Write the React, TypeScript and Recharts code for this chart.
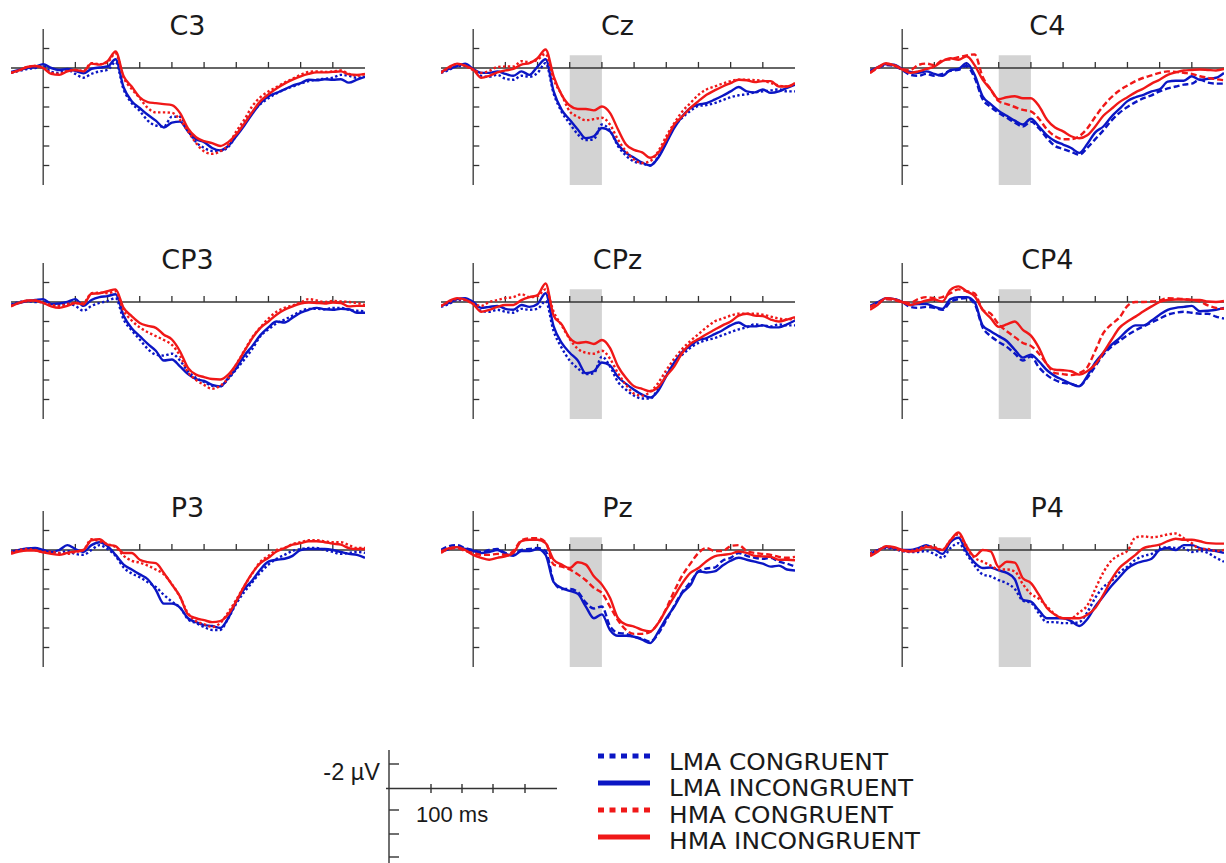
import { LineChart, Line, XAxis, YAxis, ReferenceLine, ReferenceArea } from 'recharts';

// time grid (ms) and axis ticks
const TIMES = [
  -100, -75, -50, -25, 0, 25, 50, 75, 100, 125, 150, 175, 200, 225, 250, 275, 300, 325, 350, 375, 400, 425, 450,
  475, 500, 525, 550, 575, 600, 625, 650, 675, 700, 725, 750, 775, 800, 825, 850, 875, 900, 925, 950, 975, 1000,
];
const X_TICKS = [100, 200, 300, 400, 500, 600, 700, 800, 900];
const Y_TICKS = [-2, 2, 4, 6, 8, 10];

// amplitudes in µV (negative up). lc = LMA congruent, li = LMA incongruent, hc = HMA congruent, hi = HMA incongruent
const C3_LC = [0.5,0.3,0.1,0,-0.2,0.4,0.5,0.2,0.6,1.0,0.6,0.35,0.2,-0.6,2.2,3.6,4.4,5.4,5.9,6.0,5.0,5.0,6.4,7.6,8.2,8.5,8.5,8.1,6.9,5.6,4.5,3.7,3.1,2.6,2.2,1.9,1.6,1.35,1.2,1.1,1.0,0.7,0.8,1.0,0.9];
const C3_LI = [0.4,0.2,0,-0.1,-0.4,0,0.2,0.1,0.3,0.55,0.1,-0.05,-0.15,-0.9,2.0,3.4,4.1,4.8,5.4,6.1,5.6,5.5,6.5,7.3,7.6,8.2,8.45,8.0,7.0,5.9,4.7,3.6,2.9,2.55,2.2,1.8,1.55,1.2,1.25,1.15,1.2,1.15,1.5,1.2,0.9];
const C3_HC = [0.5,0.25,-0.1,-0.2,0,0.5,0.6,0.3,0.2,0.3,-0.5,-0.4,-0.6,-1.5,1.0,2.15,3.1,4.1,4.55,4.55,4.6,5.3,6.5,7.7,8.55,8.8,8.55,7.9,6.5,5.3,3.9,3.0,2.4,1.95,1.5,1.1,0.7,0.4,0.35,0.4,0.35,0.25,0.6,0.8,0.6];
const C3_HI = [0.5,0.25,-0.1,-0.2,0,0.6,0.7,0.35,0.2,0.35,-0.45,-0.35,-0.7,-1.7,0.85,1.9,3.0,3.5,3.6,3.7,3.8,4.6,6.2,7.1,7.5,7.7,8.0,7.6,6.8,5.7,4.5,3.4,2.7,2.1,1.6,1.2,0.85,0.6,0.45,0.45,0.4,0.35,0.65,0.7,0.6];

const CZ_LC = [0.5,0.2,-0.2,-0.2,0.15,0.8,0.9,0.7,1.1,1.2,0.8,0.9,0.5,-0.5,2.6,4.5,5.7,6.8,7.4,7.3,5.8,6.4,8.0,9.0,9.6,9.8,10.0,9.1,7.6,6.0,5.1,4.4,3.9,3.8,3.6,3.3,3.0,2.8,2.7,2.5,2.4,2.3,2.2,2.4,2.4];
const CZ_LI = [0.4,0.1,-0.2,-0.45,0.1,0.5,0.5,0.35,0.6,0.8,0.35,0.7,-0.15,-0.9,2.4,4.3,5.3,6.3,7.2,7.0,6.15,6.5,7.85,8.7,9.2,9.7,10.0,9.2,7.7,6.15,4.95,4.1,3.75,3.6,3.25,2.85,2.4,1.95,2.4,2.5,2.2,2.55,2.4,2.05,1.7];
const CZ_HC = [0.5,0,-0.4,-0.2,0.2,0.5,0.3,-0.1,-0.15,-0.15,-0.7,-0.6,-0.85,-1.45,1.2,2.75,4.45,5.0,5.35,5.25,5.1,5.8,7.35,8.55,9.4,9.75,9.55,8.55,7.0,5.65,4.45,3.6,2.75,2.2,1.9,1.6,1.35,1.2,1.2,1.25,1.3,1.55,1.8,1.9,1.6];
const CZ_HI = [0.45,-0.1,-0.45,-0.25,0.15,1.0,0.8,0.45,0.25,0.1,-0.35,-0.5,-1.0,-1.9,0.85,2.75,3.85,4.2,4.2,4.35,3.95,4.6,6.3,7.85,8.4,8.65,9.2,8.7,7.35,5.8,4.95,4.1,3.4,2.75,2.3,1.9,1.55,1.2,1.25,1.45,1.35,1.35,1.9,1.9,1.55];

const C4_LC = [0.4,0,-0.3,-0.2,0.2,0.7,0.8,0.6,0.8,0.6,0.3,0.2,-0.2,1.0,3.2,4.0,4.6,5.1,5.6,6.0,5.5,6.2,7.2,8.0,8.3,8.6,8.9,8.2,7.3,6.4,5.4,4.6,4.0,3.5,3.1,2.8,2.4,2.1,1.9,1.7,1.6,1.2,1.5,1.6,1.6];
const C4_LI = [0.3,-0.1,-0.4,-0.35,0.1,0.4,0.5,0.35,0.6,0.8,0.2,0.1,-0.5,0.7,2.9,3.7,4.4,4.9,5.4,5.8,5.2,6.0,6.9,7.5,7.85,8.2,8.7,7.8,6.6,6.0,5.0,4.2,3.4,3.0,2.75,2.4,2.2,1.4,1.3,1.3,0.85,1.2,1.1,1.0,0.5];
const C4_HC = [0.5,0,-0.4,-0.3,0.1,0.2,-0.3,-0.45,-0.3,-0.8,-0.9,-1.1,-1.3,-1.4,0.9,2.2,3.4,3.7,4.0,4.3,4.45,5.2,6.3,7.0,7.3,7.3,7.0,6.2,5.0,3.9,3.0,2.3,1.8,1.35,1.0,0.75,0.5,0.35,0.4,0.5,0.6,0.85,1.0,1.15,1.25];
const C4_HI = [0.5,-0.1,-0.5,-0.25,0.15,0.5,0.35,0.1,-0.15,-0.7,-1.0,-0.85,-1.2,-0.3,1.2,2.2,3.2,3.0,2.9,3.1,3.1,3.9,5.3,6.1,6.5,7.0,7.2,6.9,6.0,4.9,4.2,3.5,3.0,2.5,2.1,1.6,1.2,0.7,0.45,0.25,0.2,0.15,0.2,0.25,0.1];

const CP3_LC = [0.3,0,-0.1,0,0,0.3,0.3,0.2,0.4,0.9,0.4,0.1,-0.1,-0.4,1.8,2.9,3.85,4.8,5.4,5.5,5.3,6.0,7.1,7.8,8.2,8.6,8.65,7.9,6.9,5.9,4.8,3.5,2.8,2.2,1.8,1.4,0.95,0.7,0.7,0.75,0.6,0.6,0.8,0.9,0.95];
const CP3_LI = [0.3,0.1,-0.1,-0.2,-0.3,0.2,0.15,0,-0.3,0.4,-0.2,-0.5,-0.6,-0.8,1.4,2.7,3.5,4.3,5.0,6.0,5.9,6.6,7.4,7.9,8.1,8.5,8.65,7.8,6.8,5.5,4.5,3.4,2.6,2.0,2.1,1.6,1.1,0.8,0.6,0.75,0.8,0.7,0.75,1.1,1.1];
const CP3_HC = [0.4,0.1,-0.1,-0.15,0.1,0.3,0.4,0.2,0.1,0.1,-0.9,-0.95,-0.9,-1.1,0.9,1.9,2.6,3.1,3.5,3.9,4.4,5.5,7.2,8.0,8.5,8.9,8.6,7.8,6.4,5.0,3.6,2.6,1.7,1.0,0.6,0.35,0.05,-0.3,-0.15,0,-0.1,-0.05,0,0.1,0.3];
const CP3_HI = [0.45,0.1,-0.15,-0.15,0.1,0.45,0.6,0.4,0.1,0.25,-0.85,-0.9,-1.1,-1.3,0.6,1.45,2.15,2.45,2.65,3.35,3.85,5.05,6.75,7.45,7.7,7.9,7.95,7.45,6.4,5.05,3.7,2.65,2.0,1.3,0.8,0.45,0.15,0.05,0.1,0.15,0.05,0.1,0.45,0.4,0.4];

const CPZ_LC = [0.5,0.2,-0.2,-0.2,0.1,0.9,1.0,0.8,1.0,1.1,0.7,0.8,0.7,-0.1,3.0,4.7,6.0,6.8,7.4,7.3,5.6,6.6,8.2,9.0,9.6,9.9,9.9,8.9,7.5,6.2,5.4,4.7,4.2,3.9,3.7,3.4,3.1,2.8,2.6,2.3,2.4,2.5,2.3,2.4,2.4];
const CPZ_LI = [0.4,0.1,-0.3,-0.4,0,0.6,0.5,0.4,0.7,0.8,0.3,0.5,0.2,-0.9,2.5,4.2,5.2,6.0,7.3,7.1,6.2,6.5,7.7,8.4,9.0,9.5,9.8,9.1,7.6,6.2,5.1,4.5,3.9,3.7,3.3,2.9,2.4,2.1,2.5,2.5,2.4,2.6,2.6,2.3,1.9];
const CPZ_HC = [0.4,0,-0.3,-0.2,0.2,0.4,0,-0.2,-0.4,-0.5,-0.8,-0.5,-0.6,-1.3,1.0,2.4,3.8,4.8,5.2,5.3,5.0,5.8,7.3,8.5,9.4,9.6,9.2,8.3,7.0,5.8,4.8,4.0,3.3,2.6,2.0,1.7,1.4,1.2,1.2,1.2,1.3,1.5,1.7,1.8,1.7];
const CPZ_HI = [0.45,-0.1,-0.4,-0.25,0.2,1.0,0.8,0.5,0.3,0.3,-0.2,-0.5,-0.7,-1.9,1.4,2.3,3.7,4.2,4.1,4.3,3.9,4.7,6.6,7.8,8.65,8.9,9.15,8.7,7.6,6.6,5.2,4.3,3.8,3.3,2.85,2.4,2.0,1.4,1.2,1.4,1.45,1.8,2.0,1.8,1.55];

const CP4_LC = [0.5,0.1,-0.3,-0.3,0,0.5,0.6,0.5,0.6,0.8,0,-0.3,-0.4,0.2,2.6,3.5,4.1,4.6,5.3,6.0,5.6,6.7,7.5,8.0,8.3,8.4,8.6,7.8,6.6,5.4,4.6,4.0,3.4,2.9,2.5,2.1,1.7,1.3,1.1,1.0,1.1,1.2,1.2,1.5,1.7];
const CP4_LI = [0.4,0,-0.4,-0.3,0,0.3,0.2,0.2,0.5,0.7,-0.3,-0.5,-0.5,0,2.4,3.0,3.5,4.0,4.9,5.7,5.4,6.1,7.0,7.6,8.0,8.4,8.65,7.6,6.2,5.2,4.4,3.7,2.9,2.4,2.4,1.9,1.3,0.8,0.6,0.5,0.4,0.95,0.9,0.8,0.6];
const CP4_HC = [0.5,0.1,-0.3,-0.2,0,0.1,-0.3,-0.5,-0.4,-0.5,-0.9,-1.3,-1.1,-0.9,0.8,1.2,2.3,3.0,3.6,4.2,4.5,5.3,6.4,7.3,7.4,7.5,7.3,6.7,5.0,3.2,2.3,1.6,0.4,0,0,-0.05,-0.15,-0.4,-0.35,-0.3,-0.2,-0.05,0.35,0.6,0.7];
const CP4_HI = [0.8,0.25,-0.4,-0.3,0,0.3,0.1,-0.15,-0.25,-0.05,-1.25,-1.6,-1.1,-0.6,0.8,1.65,2.55,2.3,2.0,2.85,3.45,4.7,6.4,6.95,7.0,7.1,7.45,7.1,6.4,5.2,3.9,2.65,2.0,1.5,0.95,0.45,0,-0.2,-0.25,-0.25,-0.2,-0.2,-0.05,0,-0.1];

const P3_LC = [0.3,0,-0.1,0,0.1,0.2,0.3,0.1,0.4,0.5,0,-0.5,-0.1,0.6,1.8,2.4,2.8,3.3,3.8,4.6,5.3,5.9,7.1,7.5,7.9,8.2,8.2,7.0,5.5,4.3,3.3,2.3,1.5,0.9,0.5,0.1,-0.1,-0.2,-0.2,0,0.2,0.4,0.3,0.2,0.3];
const P3_LI = [0.2,0,-0.15,-0.2,0,0.2,0,-0.5,-0.1,0.2,-0.5,-0.8,-0.4,0.5,1.5,2.0,2.5,3.0,4.1,5.5,5.5,5.9,7.0,7.4,7.7,7.8,8.0,7.0,5.3,4.0,3.1,2.0,1.2,1.0,0.9,0.6,0,-0.1,-0.1,-0.1,0,0.2,0.4,0.5,0.8];
const P3_HC = [0.3,0,-0.1,0,0.2,0.2,0.3,0.4,0.2,0,-1.1,-0.9,-0.6,-0.3,0.6,1.1,1.3,1.6,2.0,2.5,3.5,4.8,6.5,7.3,7.6,7.9,7.5,6.4,5.1,3.7,2.4,1.2,0.6,0,-0.2,-0.6,-0.8,-1.0,-1.0,-0.9,-0.8,-0.8,-0.5,-0.2,-0.2];
const P3_HI = [0.4,0.15,0.05,0.05,0.25,0.4,0.5,0.3,0.15,0,-1.0,-1.1,-0.55,-0.4,0.3,0.3,1.0,1.25,1.35,2.35,3.55,4.75,6.6,7.0,7.2,7.4,7.3,6.6,5.25,3.7,2.35,1.35,0.8,0.15,-0.2,-0.55,-0.7,-0.9,-0.9,-0.8,-0.65,-0.55,-0.2,-0.1,-0.1];

const PZ_LC = [0,-0.4,-0.5,-0.2,0,0.2,0,-0.1,0.3,0.5,0,-0.1,-0.2,0.1,3.2,4.0,4.0,4.3,5.4,6.0,5.8,7.8,8.5,8.6,8.9,9.1,9.4,8.6,7.2,5.7,4.3,3.3,2.2,1.9,1.8,1.1,0.8,0.3,0.6,0.8,0.9,0.8,1.2,1.4,1.7];
const PZ_LI = [0.2,-0.1,-0.3,-0.1,0.1,0.3,0.2,0,0.4,0.6,0.1,0.1,-0.1,0.5,3.3,3.9,4.2,4.5,5.8,7.0,6.6,8.2,8.8,8.8,8.9,9.2,9.55,8.4,7.0,5.8,4.4,3.6,2.2,2.3,2.2,1.6,1.1,0.8,1.0,1.2,1.4,1.7,1.6,2.0,2.1];
const PZ_HC = [0.3,-0.1,-0.2,0.1,0.3,0.5,0.5,0.4,0.5,0.1,-1.0,-1.2,-1.2,-0.8,1.5,1.7,2.0,2.5,3.1,3.9,4.4,5.8,7.2,8.2,8.6,8.6,8.4,7.5,6.0,4.2,2.6,1.4,0.3,-0.2,0.1,0.1,-0.4,-0.5,0.1,0.3,0.4,0.5,0.7,0.8,0.7];
const PZ_HI = [0.15,-0.2,-0.3,0,0.5,0.8,1.0,0.8,0.65,0.3,-0.9,-1.05,-1.05,-0.7,1.0,1.5,1.85,1.25,1.5,2.7,3.55,4.9,7.0,7.65,7.85,8.2,8.35,7.5,6.1,4.75,3.4,2.35,1.85,1.15,0.65,0.5,0.4,0.15,0.3,0.6,0.65,0.7,1.0,1.0,1.05];

const P4_LC = [0.3,0,-0.2,-0.1,0.1,0.2,0.2,0.1,0.4,0.8,-0.2,-0.7,0.4,1.6,2.5,2.7,3.1,3.4,4.0,5.2,5.4,6.5,7.4,7.4,7.5,7.5,7.4,6.4,4.9,3.8,3.2,2.3,1.7,1.0,0.6,0.4,-0.1,-0.3,-0.2,-0.2,0.2,0.1,0.3,0.8,1.2];
const P4_LI = [0.4,0,-0.3,-0.2,0,0,-0.2,-0.5,-0.1,0.4,-0.8,-1.25,0.2,1.3,1.85,1.8,2.1,2.35,3.0,5.1,5.3,6.2,7.0,7.0,7.0,7.3,7.8,7.1,5.8,4.75,3.7,2.8,1.9,1.4,1.15,0.9,0,-0.2,0,-0.5,-0.5,-0.2,0,0.1,0.3];
const P4_HC = [0.4,0,-0.3,-0.2,0.1,0.1,-0.1,-0.4,-0.3,0,-1.0,-1.6,-0.2,0.8,1.2,1.6,2.0,2.0,2.2,3.5,4.5,5.0,5.8,6.6,7.0,7.0,6.4,5.7,4.0,2.3,1.1,0.5,0.1,-1.3,-1.4,-1.3,-1.4,-1.6,-1.7,-1.2,-0.7,-0.1,-0.1,0.1,0];
const P4_HI = [0.65,0.15,-0.4,-0.3,0,0.15,0.05,-0.3,-0.2,0,-1.0,-1.8,-0.4,0.65,0,0.15,1.75,1.2,1.3,2.9,3.4,4.6,5.95,6.65,7.0,7.0,7.0,6.65,5.95,4.6,3.05,1.85,1.15,0.5,-0.2,-0.4,-0.55,-0.9,-1.15,-1.05,-1.05,-0.9,-0.7,-0.65,-0.65];

const BLUE = '#0b16c4';
const RED = '#f01818';
const AXIS = '#333';
const FONT = "'DejaVu Sans', 'Open Sans', sans-serif";

const SERIES = [
  { key: 'lc', name: 'LMA CONGRUENT', color: BLUE, broken: true },
  { key: 'li', name: 'LMA INCONGRUENT', color: BLUE, broken: false },
  { key: 'hc', name: 'HMA CONGRUENT', color: RED, broken: true },
  { key: 'hi', name: 'HMA INCONGRUENT', color: RED, broken: false },
];

const PANELS = [
  { name: 'C3', col: 0, row: 0, lc: C3_LC, li: C3_LI, hc: C3_HC, hi: C3_HI, dash: 'dot', shade: false },
  { name: 'Cz', col: 1, row: 0, lc: CZ_LC, li: CZ_LI, hc: CZ_HC, hi: CZ_HI, dash: 'dot', shade: true },
  { name: 'C4', col: 2, row: 0, lc: C4_LC, li: C4_LI, hc: C4_HC, hi: C4_HI, dash: 'dash', shade: true },
  { name: 'CP3', col: 0, row: 1, lc: CP3_LC, li: CP3_LI, hc: CP3_HC, hi: CP3_HI, dash: 'dot', shade: false },
  { name: 'CPz', col: 1, row: 1, lc: CPZ_LC, li: CPZ_LI, hc: CPZ_HC, hi: CPZ_HI, dash: 'dot', shade: true },
  { name: 'CP4', col: 2, row: 1, lc: CP4_LC, li: CP4_LI, hc: CP4_HC, hi: CP4_HI, dash: 'dash', shade: true },
  { name: 'P3', col: 0, row: 2, lc: P3_LC, li: P3_LI, hc: P3_HC, hi: P3_HI, dash: 'dot', shade: false },
  { name: 'Pz', col: 1, row: 2, lc: PZ_LC, li: PZ_LI, hc: PZ_HC, hi: PZ_HI, dash: 'dash', shade: true },
  { name: 'P4', col: 2, row: 2, lc: P4_LC, li: P4_LI, hc: P4_HC, hi: P4_HI, dash: 'dot', shade: true },
];

const COL_LEFT = [10.5, 440.5, 870.3];
const ROW_TOP = [29.3, 263.3, 511.3];
const PLOT_W = 354;
const PLOT_H = 156;

function Panel({ p }: { p: any }) {
  const data = TIMES.map((t, i) => ({ t, lc: p.lc[i], li: p.li[i], hc: p.hc[i], hi: p.hi[i] }));
  const dash = p.dash === 'dash' ? '6 3' : '2.4 2.4';
  return (
    <div style={{ position: 'absolute', left: COL_LEFT[p.col], top: ROW_TOP[p.row] }}>
      <LineChart width={PLOT_W} height={PLOT_H} data={data} margin={{ top: 0, right: 0, bottom: 0, left: 0 }} style={{ overflow: 'visible' }}>
        <XAxis type="number" dataKey="t" domain={[-100, 1000]} hide />
        <YAxis type="number" domain={[-4, 12]} reversed hide />
        {p.shade && (
          <ReferenceArea x1={300} x2={400} y1={-1.3} y2={12} fill="#d3d3d3" fillOpacity={1} stroke="none" />
        )}
        <ReferenceLine y={0} stroke={AXIS} strokeWidth={1.3} />
        <ReferenceLine x={0} stroke={AXIS} strokeWidth={1.3} />
        {X_TICKS.map((t) => (
          <ReferenceLine key={'x' + t} segment={[{ x: t, y: 0 }, { x: t, y: -0.62 }]} stroke={AXIS} strokeWidth={1.3} />
        ))}
        {Y_TICKS.map((v) => (
          <ReferenceLine key={'y' + v} segment={[{ x: 0, y: v }, { x: 19, y: v }]} stroke={AXIS} strokeWidth={1.3} />
        ))}
        {SERIES.map((s) => (
          <Line
            key={s.key}
            type="monotone"
            dataKey={s.key}
            stroke={s.color}
            strokeWidth={2.4}
            strokeDasharray={s.broken ? dash : undefined}
            dot={false}
            activeDot={false}
            isAnimationActive={false}
          />
        ))}
      </LineChart>
    </div>
  );
}

export default function App() {
  const legendLineY = [756, 783, 810, 837];
  const legendTextY = [769.5, 796, 822.5, 849];
  const legendTextW = [219, 244, 224, 251];
  return (
    <div style={{ position: 'absolute', left: 0, top: 0, width: 1226, height: 863, background: '#fff', overflow: 'hidden' }}>
      {PANELS.map((p) => (
        <Panel key={p.name} p={p} />
      ))}
      <svg width={1226} height={863} style={{ position: 'absolute', left: 0, top: 0, pointerEvents: 'none' }}>
        {PANELS.map((p) => (
          <text
            key={p.name}
            x={COL_LEFT[p.col] + PLOT_W / 2}
            y={ROW_TOP[p.row] + 39 - 33}
            textAnchor="middle"
            fontFamily={FONT}
            fontSize={27}
            fill="#1a1a1a"
          >
            {p.name}
          </text>
        ))}

        {/* scale bar */}
        <g stroke={AXIS} strokeWidth={1.4}>
          <line x1={389} y1={750} x2={389} y2={863} />
          {[764, 810, 834, 857].map((y) => (
            <line key={y} x1={389} y1={y} x2={399} y2={y} />
          ))}
          <line x1={386} y1={788.5} x2={557} y2={788.5} />
          {[431, 462, 493, 525].map((x) => (
            <line key={x} x1={x} y1={784} x2={x} y2={793} />
          ))}
        </g>
        <text x={380} y={780} textAnchor="end" fontFamily="'Liberation Sans', Arial, sans-serif" fontSize={23.5} fill="#1a1a1a">
          -2 µV
        </text>
        <text x={416} y={822} fontFamily="'Liberation Sans', Arial, sans-serif" fontSize={22} fill="#1a1a1a">
          100 ms
        </text>

        {/* legend */}
        {SERIES.map((s, i) => (
          <g key={s.key}>
            <line
              x1={598}
              y1={legendLineY[i]}
              x2={650}
              y2={legendLineY[i]}
              stroke={s.color}
              strokeWidth={5}
              strokeDasharray={s.broken ? '6 5.5' : undefined}
            />
            <text
              x={669}
              y={legendTextY[i]}
              textLength={legendTextW[i]}
              lengthAdjust="spacingAndGlyphs"
              fontFamily={FONT}
              fontSize={23.5}
              fill="#1a1a1a"
            >
              {s.name}
            </text>
          </g>
        ))}
      </svg>
    </div>
  );
}
